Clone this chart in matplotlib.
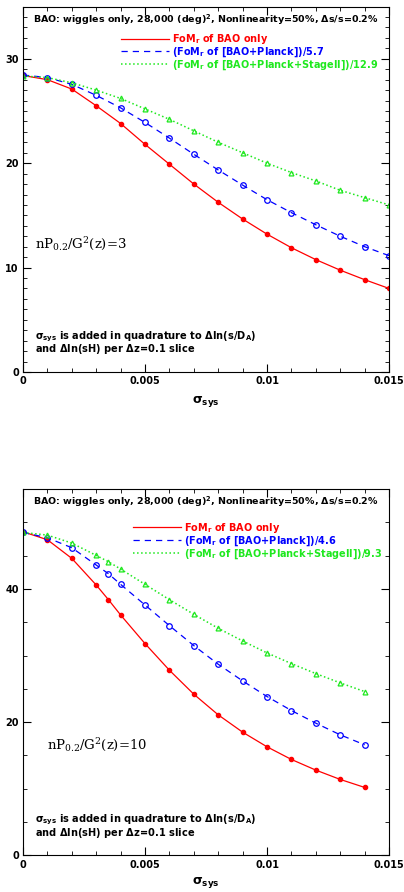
import matplotlib.pyplot as plt
from matplotlib.ticker import MultipleLocator, FixedLocator, FixedFormatter

# top panel: nP/G^2 = 3
sys_top = [0, 0.001, 0.002, 0.003, 0.004, 0.005, 0.006, 0.007, 0.008,
           0.009, 0.010, 0.011, 0.012, 0.013, 0.014, 0.015]
bao_top = [28.4, 28.0, 27.1, 25.5, 23.8, 21.8, 19.9, 18.0, 16.25,
           14.65, 13.2, 11.9, 10.76, 9.75, 8.84, 8.0]
planck_top = [28.45, 28.2, 27.55, 26.5, 25.3, 23.9, 22.4, 20.85, 19.35,
              17.9, 16.5, 15.26, 14.1, 13.0, 12.0, 11.14]
stage_top = [28.35, 28.2, 27.7, 27.0, 26.2, 25.2, 24.2, 23.1, 22.0,
             21.0, 20.0, 19.1, 18.3, 17.4, 16.7, 16.0]

# bottom panel: nP/G^2 = 10
sys_bot = [0, 0.001, 0.002, 0.003, 0.0035, 0.004, 0.005, 0.006, 0.007,
           0.008, 0.009, 0.010, 0.011, 0.012, 0.013, 0.014]
bao_bot = [48.6, 47.4, 44.6, 40.6, 38.4, 36.1, 31.8, 27.8, 24.2,
           21.1, 18.5, 16.3, 14.4, 12.8, 11.4, 10.2]
planck_bot = [48.5, 47.7, 46.2, 43.6, 42.3, 40.7, 37.6, 34.5, 31.5,
              28.7, 26.2, 23.85, 21.75, 19.85, 18.1, 16.6]
stage_bot = [48.5, 48.1, 46.9, 45.05, 44.1, 43.0, 40.7, 38.4, 36.2,
             34.1, 32.2, 30.4, 28.8, 27.3, 25.9, 24.6]

x_ticks = [0, 0.005, 0.01, 0.015]
x_tick_labels = ['0', '0.005', '0.01', '0.015']

title = 'BAO: wiggles only, 28,000 (deg)$^\\mathbf{2}$, Nonlinearity=50%, $\\mathbf{\\Delta}$s/s=0.2%'
note1 = '$\\sigma_{\\mathbf{sys}}$ is added in quadrature to $\\mathbf{\\Delta}$ln(s/D$_\\mathbf{A}$)'
note2 = 'and $\\mathbf{\\Delta}$ln(sH) per $\\mathbf{\\Delta}$z=0.1 slice'

RED = '#ff0000'
BLUE = '#0000ff'
GREEN = '#1ee81e'

plt.rcParams['font.family'] = 'DejaVu Sans'
plt.rcParams['mathtext.fontset'] = 'dejavusans'
plt.rcParams['mathtext.default'] = 'bf'

fig = plt.figure(figsize=(4.04, 8.92), dpi=100)
ax1 = fig.add_axes([0.057, 0.583, 0.906, 0.4096])
ax2 = fig.add_axes([0.057, 0.0411, 0.906, 0.4105])


def draw_panel(ax, xs, bao, planck, stage, f_planck, f_stage, ymax,
               minor, yticks, npg, npg_xy, leg_xy, xlabel_pad):
    ax.plot(xs, bao, '-', color=RED, lw=0.9, marker='o', ms=3,
            mfc=RED, mec=RED, label='FoM$_\\mathbf{r}$ of BAO only')
    ax.plot(xs, planck, '--', color=BLUE, lw=0.9, dashes=(5, 4), marker='o',
            ms=4, mfc='none', mec=BLUE, mew=0.9,
            label='(FoM$_\\mathbf{r}$ of [BAO+Planck])/%s' % f_planck)
    ax.plot(xs, stage, ':', color=GREEN, lw=1.1, marker='^', ms=3.5,
            mfc='none', mec=GREEN, mew=0.9,
            label='(FoM$_\\mathbf{r}$ of [BAO+Planck+StageII])/%s' % f_stage)

    ax.set_xlim(0, 0.015)
    ax.set_ylim(0, ymax)
    ax.xaxis.set_major_locator(FixedLocator(x_ticks))
    ax.xaxis.set_major_formatter(FixedFormatter(x_tick_labels))
    ax.xaxis.set_minor_locator(MultipleLocator(0.001))
    ax.set_yticks(yticks)
    ax.yaxis.set_minor_locator(MultipleLocator(minor))
    ax.tick_params(which='both', direction='in', top=True, right=True)
    ax.tick_params(which='major', length=6, width=0.8, labelsize=7, pad=3)
    ax.tick_params(which='minor', length=3, width=0.6)
    for lab in ax.get_xticklabels() + ax.get_yticklabels():
        lab.set_fontweight('bold')
    for sp in ax.spines.values():
        sp.set_linewidth(0.8)

    ax.text(0.5, 0.965, title, transform=ax.transAxes, ha='center',
            va='center', fontsize=6.8, fontweight='bold')
    leg = ax.legend(loc='upper left', bbox_to_anchor=leg_xy,
                    frameon=False, handlelength=5, handletextpad=0.25,
                    labelspacing=-0.06, borderaxespad=0,
                    prop={'weight': 'bold', 'size': 7})
    for txt, col in zip(leg.get_texts(), [RED, BLUE, GREEN]):
        txt.set_color(col)
    for h in leg.legend_handles:
        h.set_marker('')

    ax.text(npg_xy[0], npg_xy[1], npg, transform=ax.transAxes,
            fontsize=9.5, family='DejaVu Serif', math_fontfamily='dejavuserif',
            va='center')
    ax.text(0.033, 0.0966, note1, transform=ax.transAxes, fontsize=7.1,
            fontweight='bold', va='center')
    ax.text(0.033, 0.062, note2, transform=ax.transAxes, fontsize=7.1,
            fontweight='bold', va='center')
    ax.set_xlabel('$\\sigma_{\\mathbf{sys}}$', fontsize=9, labelpad=xlabel_pad)


draw_panel(ax1, sys_top, bao_top, planck_top, stage_top, '5.7', '12.9',
           35, 1, [0, 10, 20, 30],
           'nP$_{\\mathrm{0.2}}$/G$^{\\mathrm{2}}$(z)=3', (0.033, 0.35),
           (0.256, 0.941), 6)
draw_panel(ax2, sys_bot, bao_bot, planck_bot, stage_bot, '4.6', '9.3',
           55, 5, [0, 20, 40],
           'nP$_{\\mathrm{0.2}}$/G$^{\\mathrm{2}}$(z)=10', (0.066, 0.301),
           (0.289, 0.924), 4)

fig.savefig('out.png', dpi=100)
